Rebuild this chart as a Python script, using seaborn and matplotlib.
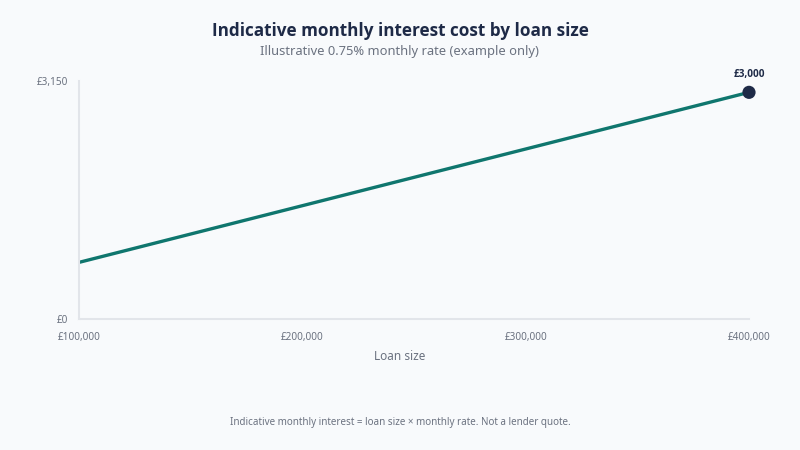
import numpy as np
import pandas as pd

import matplotlib
matplotlib.use('Agg')
import matplotlib.pyplot as plt
import seaborn as sns

# Chart data
loan_size = [100000, 200000, 300000, 400000]
monthly_interest = [750, 1500, 2250, 3000]
x_ticks = [100000, 200000, 300000, 400000]
x_tick_labels = ['£100,000', '£200,000', '£300,000', '£400,000']
y_ticks = [0, 3150]
y_tick_labels = ['£0', '£3,150']

df = pd.DataFrame({'loan': loan_size, 'interest': monthly_interest})

bg = '#f8fafc'
sns.set_theme(style='white', rc={'axes.facecolor': bg, 'figure.facecolor': bg})
plt.rcParams['font.family'] = ['Noto Sans', 'DejaVu Sans']
bold_font = ['Open Sans', 'DejaVu Sans']

fig = plt.figure(figsize=(8, 4.5), dpi=100)
ax = fig.add_axes([0.09875, 0.291, 0.8375, 0.529])

sns.lineplot(data=df, x='loan', y='interest', ax=ax, color='#0f766e', lw=2.4)
last = df.iloc[[-1]]
sns.scatterplot(data=last, x='loan', y='interest', ax=ax, color='#1e2a47',
                s=90, edgecolor='none', zorder=5, clip_on=False)
ax.annotate('£{:,}'.format(int(last.interest.iloc[0])),
            (last.loan.iloc[0], last.interest.iloc[0]),
            xytext=(0, 9), textcoords='offset points', ha='center', va='bottom',
            fontsize=7.2, fontweight='bold', family=bold_font, color='#1e2a47')

ax.set_xlim(100000, 400000)
ax.set_ylim(0, 3150)
ax.set_xticks(x_ticks, x_tick_labels)
ax.set_yticks(y_ticks, y_tick_labels)
ax.tick_params(axis='both', length=0, labelsize=7.2, labelcolor='#6b7280')
ax.tick_params(axis='x', pad=9.5)
ax.tick_params(axis='y', pad=8)
for lab in ax.get_yticklabels():
    lab.set_va('center_baseline')
ax.set_xlabel('')
ax.set_ylabel('')

sns.despine(ax=ax)
for side in ['left', 'bottom']:
    ax.spines[side].set_color('#e2e5ea')
    ax.spines[side].set_linewidth(1.5)

fig.text(0.5, 1 - 357 / 450, 'Loan size', ha='center', va='center',
         fontsize=8.5, color='#6b7280')
fig.text(0.5, 1 - 31 / 450, 'Indicative monthly interest cost by loan size', ha='center',
         va='center', fontsize=12.3, fontweight='bold', family=bold_font, color='#1e2a47')
fig.text(0.5, 1 - 51 / 450, 'Illustrative 0.75% monthly rate (example only)', ha='center',
         va='center', fontsize=9.3, color='#6b7280')
fig.text(0.5, 1 - 422 / 450, 'Indicative monthly interest = loan size × monthly rate. Not a lender quote.',
         ha='center', va='center', fontsize=7.1, color='#6b7280')

plt.savefig('out.png', dpi=100, facecolor=bg)
plt.close()
